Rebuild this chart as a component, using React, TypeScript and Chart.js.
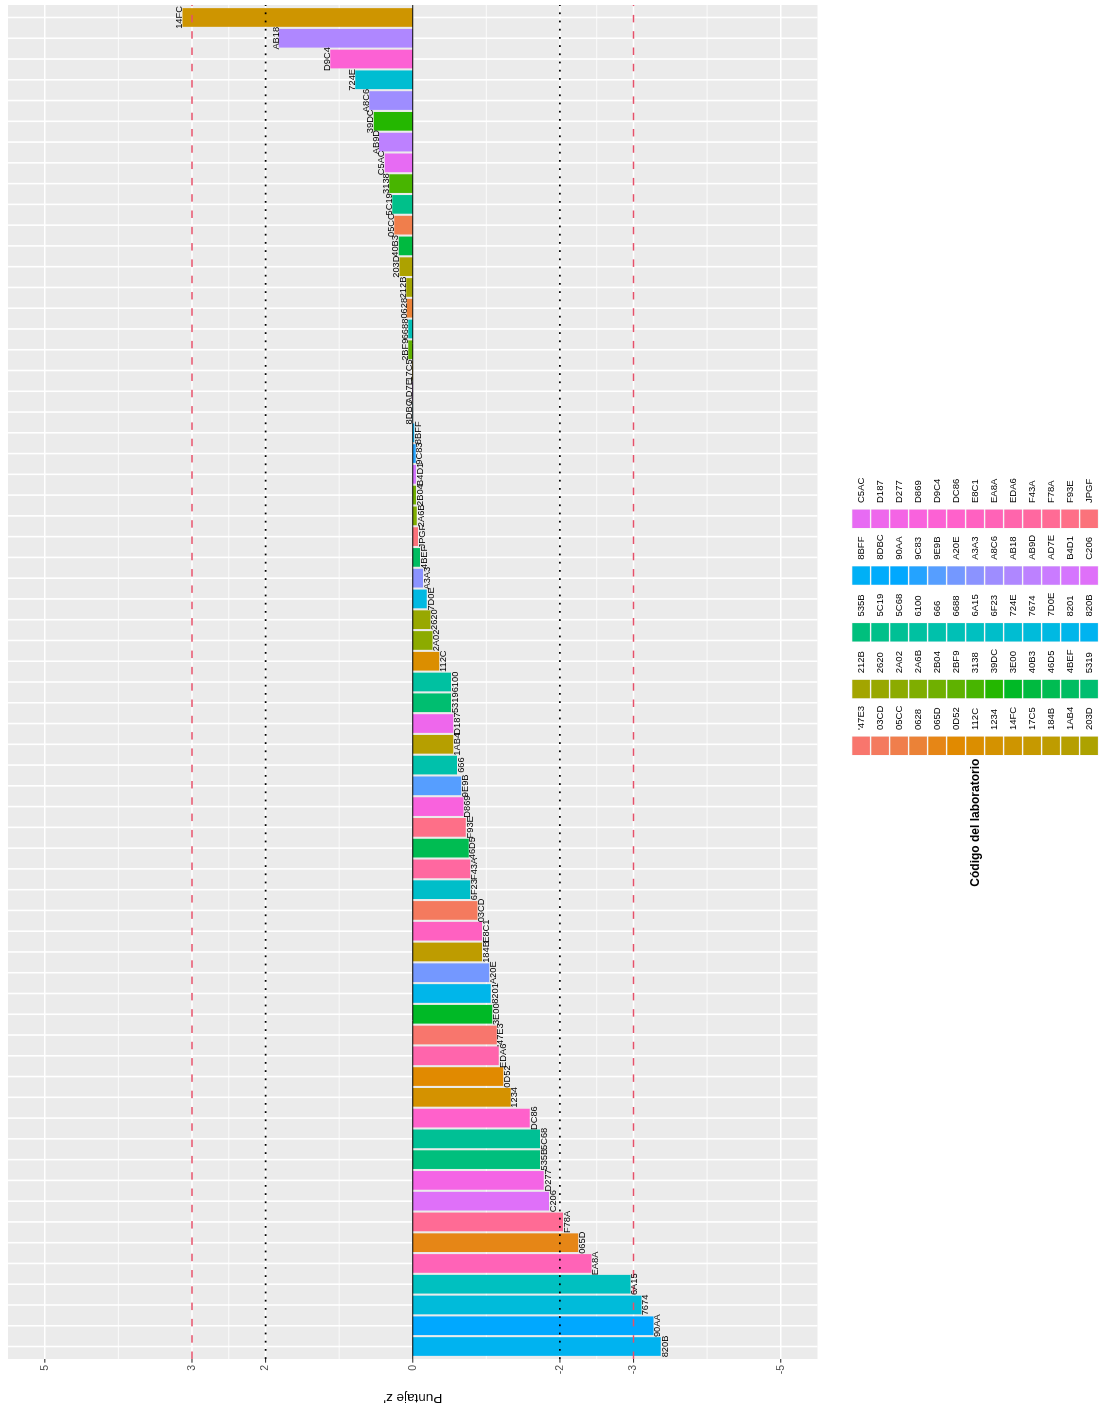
import React, { useEffect, useRef } from 'react';
import { Chart, registerables } from 'chart.js';

Chart.register(...registerables);

// ---------- data ----------
const LAB_CODES: string[] = [
  '820B', '90AA', '7674', '6A15', 'EA8A', '065D', 'F78A', 'C206', 'D277', '535B',
  '5C68', 'DC86', '1234', '0D52', 'EDA6', "'47E3", '3E00', '8201', 'A20E', '184B',
  'E8C1', '03CD', '6F23', 'F43A', '46D5', 'F93E', 'D869', '9E9B', '666', '1AB4',
  'D187', '5319', '6100', '112C', '2A02', '2620', '7D0E', 'A3A3', '4BEF', 'JPGF',
  '2A6B', '2B04', 'B4D1', '9C83', '8BFF', '8DBC', 'AD7E', '17C5', '2BF9', '6688',
  '0628', '212B', '203D', '40B3', '05CC', '5C19', '3138', 'C5AC', 'AB9D', '39DC',
  'A8C6', '724E', 'D9C4', 'AB18', '14FC',
];

const Z_SCORES: number[] = [
  -3.37, -3.27, -3.11, -2.96, -2.43, -2.25, -2.04, -1.85, -1.78, -1.73,
  -1.73, -1.59, -1.33, -1.23, -1.17, -1.14, -1.08, -1.06, -1.04, -0.94,
  -0.94, -0.88, -0.78, -0.78, -0.76, -0.72, -0.69, -0.66, -0.60, -0.55,
  -0.55, -0.52, -0.52, -0.36, -0.27, -0.24, -0.19, -0.14, -0.10, -0.07,
  -0.055, -0.045, -0.045, -0.04, -0.02, 0.005, 0.01, 0.01, 0.06, 0.06,
  0.08, 0.09, 0.18, 0.19, 0.25, 0.28, 0.32, 0.38, 0.46, 0.53,
  0.59, 0.78, 1.12, 1.82, 3.13,
];

// legend (factor level) order
const LEGEND_ORDER: string[] = [
  "'47E3", '03CD', '05CC', '0628', '065D', '0D52', '112C', '1234', '14FC', '17C5', '184B', '1AB4', '203D',
  '212B', '2620', '2A02', '2A6B', '2B04', '2BF9', '3138', '39DC', '3E00', '40B3', '46D5', '4BEF', '5319',
  '535B', '5C19', '5C68', '6100', '666', '6688', '6A15', '6F23', '724E', '7674', '7D0E', '8201', '820B',
  '8BFF', '8DBC', '90AA', '9C83', '9E9B', 'A20E', 'A3A3', 'A8C6', 'AB18', 'AB9D', 'AD7E', 'B4D1', 'C206',
  'C5AC', 'D187', 'D277', 'D869', 'D9C4', 'DC86', 'E8C1', 'EA8A', 'EDA6', 'F43A', 'F78A', 'F93E', 'JPGF',
];

const Y_TICKS: number[] = [5, 3, 2, 0, -2, -3, -5];
const Y_MIN = -5.5;
const Y_MAX = 5.5;
const DASHED_LINES: number[] = [3, -3];
const DOTTED_LINES: number[] = [2, -2];
const ZERO_LINE: number[] = [0];

const AXIS_TITLE = "Puntaje z'";
const LEGEND_TITLE = 'Código del laboratorio';

// ---------- styling helpers ----------
const FONT = '"Liberation Sans", Arial, Helvetica, sans-serif';

function hcl(h: number, c: number, l: number): string {
  const WHITE_Y = 100.0;
  const WHITE_u = 0.1978398;
  const WHITE_v = 0.4683363;
  const hr = (h * Math.PI) / 180;
  const U = c * Math.cos(hr);
  const V = c * Math.sin(hr);
  const Y = WHITE_Y * (l > 7.999592 ? Math.pow((l + 16) / 116, 3) : l / 903.3);
  const u = U / (13 * l) + WHITE_u;
  const v = V / (13 * l) + WHITE_v;
  const X = (9.0 * Y * u) / (4 * v);
  const Z = -X / 3 - 5 * Y + (3 * Y) / v;
  const g = (t: number) => (t > 0.00304 ? 1.055 * Math.pow(t, 1 / 2.4) - 0.055 : 12.92 * t);
  const R = g((3.240479 * X - 1.53715 * Y - 0.498535 * Z) / WHITE_Y);
  const G = g((-0.969256 * X + 1.875992 * Y + 0.041556 * Z) / WHITE_Y);
  const B = g((0.055648 * X - 0.204043 * Y + 1.057311 * Z) / WHITE_Y);
  const hx = (t: number) => {
    const n = Math.round(Math.min(1, Math.max(0, t)) * 255);
    return n.toString(16).padStart(2, '0');
  };
  return '#' + hx(R) + hx(G) + hx(B);
}

function colorFor(code: string): string {
  const n = LEGEND_ORDER.length;
  const i = LEGEND_ORDER.indexOf(code);
  return hcl(15 + (360 * i) / n, 100, 65);
}

function hLine(ctx: CanvasRenderingContext2D, x1: number, x2: number, y: number) {
  ctx.beginPath();
  ctx.moveTo(x1, y);
  ctx.lineTo(x2, y);
  ctx.stroke();
}
function vLine(ctx: CanvasRenderingContext2D, x: number, y1: number, y2: number) {
  ctx.beginPath();
  ctx.moveTo(x, y1);
  ctx.lineTo(x, y2);
  ctx.stroke();
}

function panelBox(chart: any) {
  const xs = chart.scales.x;
  const ys = chart.scales.y;
  const n = LAB_CODES.length;
  const cw = xs.getPixelForValue(1) - xs.getPixelForValue(0);
  const left = xs.getPixelForValue(0) - 0.6 * cw;
  const right = xs.getPixelForValue(n - 1) + 0.6 * cw;
  const top = ys.getPixelForValue(Y_MAX);
  const bottom = ys.getPixelForValue(Y_MIN);
  return { left, right, top, bottom, cw };
}

const ggPlugin = {
  id: 'ggPanel',
  beforeDatasetsDraw(chart: any) {
    const ctx: CanvasRenderingContext2D = chart.ctx;
    const xs = chart.scales.x;
    const ys = chart.scales.y;
    const { left, right, top, bottom } = panelBox(chart);
    ctx.save();
    ctx.fillStyle = '#EBEBEB';
    ctx.fillRect(left, top, right - left, bottom - top);
    // minor gridlines: midpoints between majors
    const sorted = [...Y_TICKS].sort((a, b) => a - b);
    ctx.strokeStyle = '#FFFFFF';
    ctx.lineWidth = 0.8;
    for (let i = 0; i < sorted.length - 1; i++) {
      const m = (sorted[i] + sorted[i + 1]) / 2;
      hLine(ctx, left, right, ys.getPixelForValue(m));
    }
    ctx.lineWidth = 1.6;
    Y_TICKS.forEach((v) => hLine(ctx, left, right, ys.getPixelForValue(v)));
    LAB_CODES.forEach((_, i) => vLine(ctx, xs.getPixelForValue(i), top, bottom));
    // tick marks
    ctx.strokeStyle = '#333333';
    ctx.lineWidth = 1.1;
    Y_TICKS.forEach((v) => hLine(ctx, left - 3.7, left, ys.getPixelForValue(v)));
    ctx.restore();
  },
  afterDatasetsDraw(chart: any) {
    const ctx: CanvasRenderingContext2D = chart.ctx;
    const ys = chart.scales.y;
    const { left, right } = panelBox(chart);
    ctx.save();
    // zero line
    ctx.strokeStyle = '#000000';
    ctx.lineWidth = 1.0;
    ZERO_LINE.forEach((v) => hLine(ctx, left, right, ys.getPixelForValue(v)));
    // dotted black
    ctx.setLineDash([1.8, 6.4]);
    ctx.lineWidth = 1.7;
    ctx.strokeStyle = '#000000';
    DOTTED_LINES.forEach((v) => hLine(ctx, left, right, ys.getPixelForValue(v)));
    // dashed red
    ctx.setLineDash([7.5, 8.8]);
    ctx.lineWidth = 1.5;
    ctx.strokeStyle = '#E5506A';
    DASHED_LINES.forEach((v) => hLine(ctx, left, right, ys.getPixelForValue(v)));
    ctx.setLineDash([]);
    // bar labels
    const meta = chart.getDatasetMeta(0);
    ctx.fillStyle = '#000000';
    ctx.font = `9.3px ${FONT}`;
    ctx.textAlign = 'center';
    ctx.textBaseline = 'alphabetic';
    meta.data.forEach((bar: any, i: number) => {
      const v = Z_SCORES[i];
      const py = ys.getPixelForValue(v);
      if (v >= 0) ctx.fillText(LAB_CODES[i], bar.x, py - 0.3);
      else ctx.fillText(LAB_CODES[i], bar.x, py + 6.8);
    });
    ctx.restore();
  },
  afterDraw(chart: any) {
    const ctx: CanvasRenderingContext2D = chart.ctx;
    ctx.save();
    // legend title
    ctx.fillStyle = '#000000';
    ctx.font = `bold 12px ${FONT}`;
    ctx.textAlign = 'left';
    ctx.textBaseline = 'middle';
    ctx.fillText(LEGEND_TITLE, 520.3, 975.5);
    // keys
    const rows = 13;
    ctx.font = `9.5px ${FONT}`;
    LEGEND_ORDER.forEach((code, i) => {
      const col = Math.floor(i / rows);
      const row = i % rows;
      const kx = 652 + 56.75 * col;
      const ky = 852.3 + 19 * row;
      ctx.fillStyle = '#F2F2F2';
      ctx.fillRect(kx - 0.4, ky - 0.6, 19.2, 18.9);
      ctx.fillStyle = colorFor(code);
      ctx.fillRect(kx, ky, 18.4, 17.6);
      ctx.fillStyle = '#000000';
      ctx.fillText(code, kx + 25, ky + 9);
    });
    ctx.restore();
  },
};

export default function App() {
  const ref = useRef<HTMLCanvasElement>(null);

  useEffect(() => {
    if (!ref.current) return;
    const chart = new Chart(ref.current, {
      type: 'bar',
      data: {
        labels: LAB_CODES,
        datasets: [
          {
            data: Z_SCORES,
            backgroundColor: LAB_CODES.map(colorFor),
            borderWidth: 0,
            barPercentage: 0.9,
            categoryPercentage: 1.0,
          },
        ],
      },
      options: {
        responsive: false,
        animation: false,
        devicePixelRatio: 1,
        layout: { padding: { left: 0, right: 7.1, top: 8, bottom: 283.5 } },
        scales: {
          x: {
            type: 'category',
            display: false,
            offset: true,
            grid: { display: false },
          },
          y: {
            type: 'linear',
            min: Y_MIN,
            max: Y_MAX,
            afterBuildTicks: (s: any) => {
              s.ticks = Y_TICKS.map((v) => ({ value: v }));
            },
            afterFit: (s: any) => {
              s.width = 50.1;
              s.paddingTop = 0;
              s.paddingBottom = 0;
            },
            grid: { display: false, drawTicks: false },
            border: { display: false },
            ticks: {
              autoSkip: false,
              padding: 8.1,
              color: '#4D4D4D',
              font: { family: FONT, size: 10.5 },
              callback: (v: any) => String(v),
            },
            title: {
              display: true,
              text: AXIS_TITLE,
              color: '#000000',
              font: { family: FONT, size: 13.5 },
              padding: { top: 1, bottom: 0 },
            },
          },
        },
        plugins: {
          legend: { display: false },
          tooltip: { enabled: false },
        },
      },
      plugins: [ggPlugin],
    } as any);
    return () => chart.destroy();
  }, []);

  return (
    <div
      style={{
        position: 'absolute',
        left: 0,
        top: 0,
        width: 1101,
        height: 1407,
        overflow: 'hidden',
        background: '#ffffff',
      }}
    >
      <div
        style={{
          position: 'absolute',
          left: 0,
          top: 0,
          width: 1407,
          height: 1101,
          transformOrigin: '0 0',
          transform: 'translate(0px, 1407px) rotate(-90deg)',
        }}
      >
        <canvas ref={ref} width={1407} height={1101} style={{ display: 'block', width: 1407, height: 1101 }} />
      </div>
    </div>
  );
}
